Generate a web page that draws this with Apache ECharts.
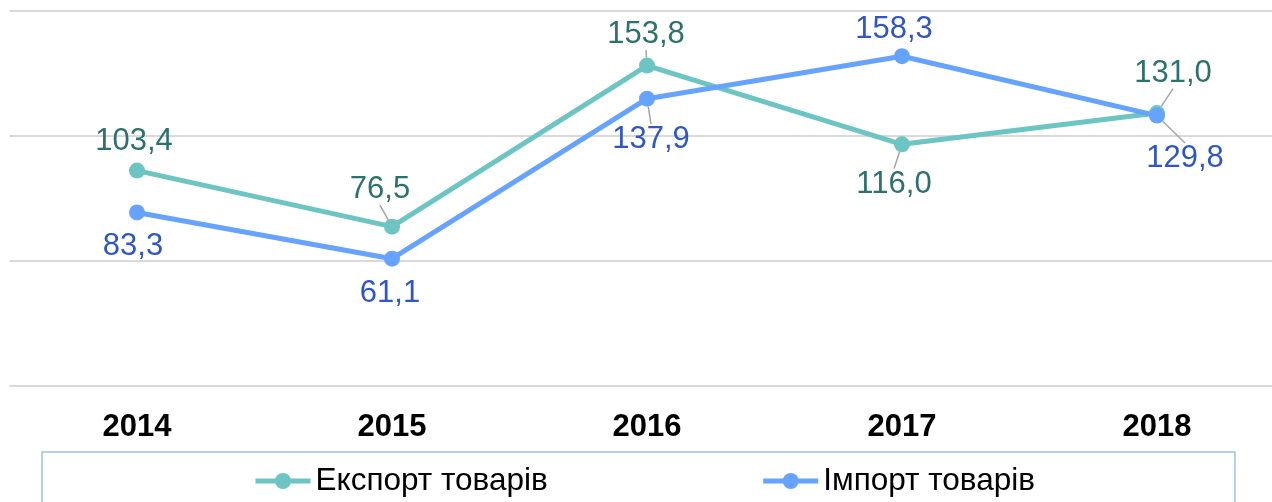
<!DOCTYPE html>
<html>
<head>
<meta charset="utf-8">
<script src="https://cdn.jsdelivr.net/npm/echarts@6/dist/echarts.min.js"></script>
<style>
    html, body { margin: 0; padding: 0; background: #fff; }
    #chart { width: 1272px; height: 502px; }
</style>
</head>
<body>
<div id="chart"></div>
<script>
    // роки
    var years = ['2014', '2015', '2016', '2017', '2018'];
    // Експорт товарів, %
    var exportValues = [103.4, 76.5, 153.8, 116.0, 131.0];
    // Імпорт товарів, %
    var importValues = [83.3, 61.1, 137.9, 158.3, 129.8];
    var seriesNames = ['Експорт товарів', 'Імпорт товарів'];

    // зсув підпису від точки (центр підпису), та чи малювати виносну лінію
    var exportLabelShift = [[-3, -29], [-12, -37], [-1, -31], [-8, 40], [16, -40]];
    var importLabelShift = [[-4, 34], [-2, 35], [4, 41], [-8, -27], [28, 43]];
    var exportLeader = [false, true, true, true, true];
    var importLeader = [false, false, true, false, true];

    var font = "'Liberation Sans', Arial, sans-serif";

    function fmt(v) {
        return v.toFixed(1).replace('.', ',');
    }

    function buildData(values, leaders) {
        return values.map(function (v, i) {
            return { value: v, labelLine: { show: leaders[i] } };
        });
    }

    var chart = echarts.init(document.getElementById('chart'));
    chart.setOption({
        animation: false,
        grid: {
            left: 9.5,
            right: -12.5,
            top: 11,
            bottom: 116,
            outerBoundsMode: 'none'
        },
        legend: {
            data: seriesNames,
            left: 42,
            top: 452,
            padding: [13, 200, 40, 211],
            borderColor: '#9dc3e6',
            borderWidth: 1.5,
            itemGap: 213,
            itemWidth: 55,
            itemHeight: 20,
            lineStyle: { width: 5 },
            textStyle: { fontFamily: font, fontSize: 31.5, color: '#000' }
        },
        xAxis: {
            type: 'category',
            data: years,
            axisLine: { show: false },
            axisTick: { show: false },
            axisLabel: {
                margin: 26,
                fontFamily: font,
                fontSize: 31,
                fontWeight: 'bold',
                color: '#000'
            }
        },
        yAxis: {
            type: 'value',
            min: 0,
            max: 180,
            interval: 60,
            axisLabel: { show: false },
            axisLine: { show: false },
            axisTick: { show: false },
            splitLine: { lineStyle: { color: '#d9d9d9', width: 2 } }
        },
        series: [
            {
                name: seriesNames[0],
                type: 'line',
                data: buildData(exportValues, exportLeader),
                symbol: 'circle',
                symbolSize: 16,
                color: '#6cc5c2',
                lineStyle: { width: 5, color: '#6cc5c2' },
                label: {
                    show: true,
                    position: 'inside',
                    fontFamily: font,
                    fontSize: 31,
                    color: '#2b716c',
                    formatter: function (p) { return fmt(p.value); }
                },
                labelLine: { show: true, lineStyle: { color: '#a6a6a6', width: 1.5 } },
                labelLayout: function (p) {
                    var s = exportLabelShift[p.dataIndex];
                    return { dx: s[0], dy: s[1] };
                }
            },
            {
                name: seriesNames[1],
                type: 'line',
                data: buildData(importValues, importLeader),
                symbol: 'circle',
                symbolSize: 16,
                color: '#66a3ff',
                lineStyle: { width: 5, color: '#66a3ff' },
                label: {
                    show: true,
                    position: 'inside',
                    fontFamily: font,
                    fontSize: 31,
                    color: '#2f56c6',
                    formatter: function (p) { return fmt(p.value); }
                },
                labelLine: { show: true, lineStyle: { color: '#a6a6a6', width: 1.5 } },
                labelLayout: function (p) {
                    var s = importLabelShift[p.dataIndex];
                    return { dx: s[0], dy: s[1] };
                }
            }
        ]
    });
</script>
</body>
</html>
